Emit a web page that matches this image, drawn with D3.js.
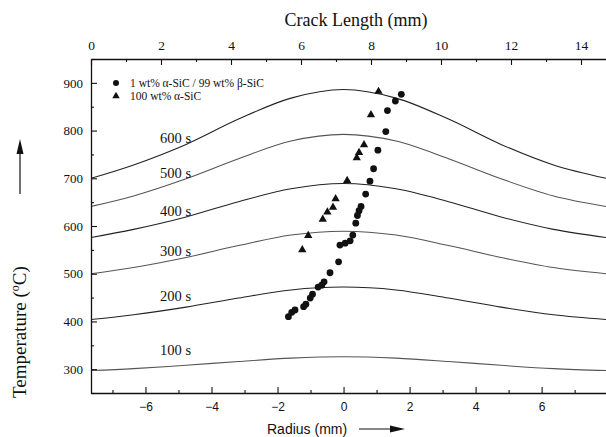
<!DOCTYPE html>
<html>
<head>
<meta charset="utf-8">
<script src="https://cdn.jsdelivr.net/npm/d3@7"></script>
<style>
  body { margin: 0; background: #fff; }
  svg { display: block; }
</style>
</head>
<body>
<script>
// radius positions (mm) where the isochrone curves were read
const radius = [-7.65, -6.36, -4.77, -3.18, -1.59, 0, 1.59, 3.18, 4.77, 6.36, 7.95];

// temperature profiles (°C) after each heating time
const curve100 = [297, 301, 308, 316, 323, 326, 323, 316, 308, 301, 297];
const curve200 = [404, 414, 430, 449, 466, 472, 466, 449, 430, 414, 404];
const curve300 = [500, 513, 534, 559, 581, 589, 581, 559, 534, 513, 500];
const curve400 = [576, 593, 619, 651, 678, 689, 678, 651, 619, 593, 576];
const curve500 = [641, 663, 699, 741, 778, 792, 778, 741, 699, 663, 641];
const curve600 = [700, 728, 771, 824, 868, 886, 868, 824, 771, 728, 700];
const curveLabels = ["100 s", "200 s", "300 s", "400 s", "500 s", "600 s"];

// 1 wt% alpha-SiC / 99 wt% beta-SiC (circles)
const circR = [1.75, 1.57, 1.33, 1.28, 1.04, 0.91, 0.80, 0.67, 0.53, 0.47, 0.42, 0.37, 0.28, 0.20,
               0.05, -0.11, -0.15, -0.41, -0.59, -0.66, -0.77, -0.94, -1.01, -1.14, -1.21, -1.47, -1.57, -1.67];
const circT = [876, 862, 842, 798, 759, 720, 694, 667, 641, 632, 622, 606, 581, 569,
               564, 560, 525, 502, 483, 476, 472, 457, 449, 436, 431, 424, 419, 410];

// 100 wt% alpha-SiC (triangles)
const triR = [1.06, 0.83, 0.62, 0.47, 0.40, 0.11, -0.24, -0.32, -0.49, -0.63, -1.07, -1.25];
const triT = [882, 833, 770, 754, 743, 695, 657, 639, 629, 614, 580, 550];

const legendLabels = ["1 wt% \u03b1-SiC / 99 wt% \u03b2-SiC", "100 wt% \u03b1-SiC"];

const crackTicks = [0, 2, 4, 6, 8, 10, 12, 14];
const radiusTicks = [-6, -4, -2, 0, 2, 4, 6];
const tempTicks = [300, 400, 500, 600, 700, 800, 900];

const W = 606, H = 437;
const plotLeft = 91, plotRight = 606, plotTop = 59, plotBottom = 393;
// nudge of each curve label off its curve (px)
const labelNudge = [-8, -4, 1, 1, 1, 1];

const svg = d3.select("body").append("svg")
    .attr("width", W)
    .attr("height", H);

svg.append("rect").attr("width", W).attr("height", H).attr("fill", "#fff");

// scales
const x = d3.scaleLinear().domain([-7.65, 7.95]).range([plotLeft, plotRight]);
const xCrack = d3.scaleLinear().domain([0, 15]).range([plotLeft, plotLeft + 525]);
const y = d3.scaleLinear().domain([250, 950]).range([plotBottom, plotTop]);

const serif = "'Liberation Serif', 'Times New Roman', serif";
const sans = "'Liberation Sans', Arial, sans-serif";

svg.append("clipPath").attr("id", "plot")
    .append("rect")
    .attr("x", plotLeft).attr("y", plotTop)
    .attr("width", plotRight - plotLeft).attr("height", plotBottom - plotTop);

// curves
const line = d3.line()
    .x((d, i) => x(radius[i]))
    .y(d => y(d))
    .curve(d3.curveCatmullRom.alpha(0.5));

const curves = [curve100, curve200, curve300, curve400, curve500, curve600];
svg.append("g")
    .attr("clip-path", "url(#plot)")
    .selectAll("path")
    .data(curves)
    .enter()
    .append("path")
    .attr("d", d => line(d))
    .attr("fill", "none")
    .attr("stroke", (d, i) => i % 2 ? "#222" : "#555")
    .attr("stroke-width", 1.1);

svg.append("g")
    .selectAll("text")
    .data(curves)
    .enter()
    .append("text")
    .attr("x", 160)
    .attr("y", (d, i) => y(d[2]) - 2 + labelNudge[i])
    .attr("font-family", serif)
    .attr("font-size", 14.5)
    .attr("fill", "#111")
    .text((d, i) => curveLabels[i]);

// axes: inward ticks
function styleAxis(g) {
    g.selectAll("path").attr("stroke", "#111").attr("stroke-width", 1.3);
    g.selectAll("line").attr("stroke", "#111").attr("stroke-width", 1.1);
    g.selectAll("text").attr("fill", "#111");
}

// bottom (radius)
svg.append("g")
    .attr("transform", `translate(0,${plotBottom})`)
    .call(d3.axisBottom(x).tickValues([-7, -5, -3, -1, 1, 3, 5, 7]).tickSize(-3).tickFormat("").tickSizeOuter(0))
    .call(styleAxis);
svg.append("g")
    .attr("transform", `translate(0,${plotBottom})`)
    .call(d3.axisBottom(x).tickValues(radiusTicks).tickSize(-6).tickPadding(9).tickSizeOuter(0))
    .call(styleAxis)
    .call(g => g.selectAll("text").attr("font-family", sans).attr("font-size", 12))
    .call(g => g.select(".domain").remove());

// top (crack length)
svg.append("g")
    .attr("transform", `translate(0,${plotTop})`)
    .call(d3.axisTop(xCrack).tickValues([1, 3, 5, 7, 9, 11, 13, 15]).tickSize(-3).tickFormat("").tickSizeOuter(0))
    .call(styleAxis);
svg.append("g")
    .attr("transform", `translate(0,${plotTop})`)
    .call(d3.axisTop(xCrack).tickValues(crackTicks).tickSize(-6).tickPadding(9).tickSizeOuter(0))
    .call(styleAxis)
    .call(g => g.selectAll("text").attr("font-family", serif).attr("font-size", 13.5))
    .call(g => g.select(".domain").remove());

// left (temperature)
svg.append("g")
    .attr("transform", `translate(${plotLeft},0)`)
    .call(d3.axisLeft(y).tickValues([250, 350, 450, 550, 650, 750, 850, 950]).tickSize(-3).tickFormat("").tickSizeOuter(0))
    .call(styleAxis);
svg.append("g")
    .attr("transform", `translate(${plotLeft},0)`)
    .call(d3.axisLeft(y).tickValues(tempTicks).tickSize(-6).tickPadding(8).tickSizeOuter(0))
    .call(styleAxis)
    .call(g => g.selectAll("text").attr("font-family", serif).attr("font-size", 13))
    .call(g => g.select(".domain").remove());

// data points
svg.append("g")
    .selectAll("circle")
    .data(circR)
    .enter()
    .append("circle")
    .attr("cx", d => x(d))
    .attr("cy", (d, i) => y(circT[i]))
    .attr("r", 3.4)
    .attr("fill", "#111");

const tri = d3.symbol().type(d3.symbolTriangle).size(30);
svg.append("g")
    .selectAll("path")
    .data(triR)
    .enter()
    .append("path")
    .attr("d", tri)
    .attr("transform", (d, i) => `translate(${x(d)},${y(triT[i])})`)
    .attr("fill", "#111");

// legend
const legend = svg.append("g").attr("transform", "translate(116,83)");
legend.append("circle").attr("cx", 0).attr("cy", 0).attr("r", 3).attr("fill", "#111");
legend.append("path").attr("d", d3.symbol().type(d3.symbolTriangle).size(24)())
    .attr("transform", "translate(0,13)").attr("fill", "#111");
legend.selectAll("text")
    .data(legendLabels)
    .enter()
    .append("text")
    .attr("x", 14)
    .attr("y", (d, i) => i * 13 + 4)
    .attr("font-family", serif)
    .attr("font-size", 11.5)
    .attr("fill", "#111")
    .text(d => d);

// titles
svg.append("text")
    .attr("x", 356).attr("y", 26)
    .attr("text-anchor", "middle")
    .attr("font-family", serif)
    .attr("font-size", 18)
    .attr("fill", "#111")
    .text("Crack Length (mm)");

svg.append("text")
    .attr("x", 267).attr("y", 434)
    .attr("font-family", sans)
    .attr("font-size", 14)
    .attr("fill", "#111")
    .text("Radius (mm)");

// arrow after radius title
svg.append("line")
    .attr("x1", 359).attr("x2", 393).attr("y1", 429).attr("y2", 429)
    .attr("stroke", "#111").attr("stroke-width", 1.2);
svg.append("path")
    .attr("d", "M390,425.5 L405,429 L390,432.5 Z")
    .attr("fill", "#111");

// temperature title, rotated
const yt = svg.append("text")
    .attr("transform", "translate(26,398) rotate(-90)")
    .attr("font-family", serif)
    .attr("font-size", 19)
    .attr("fill", "#111");
yt.append("tspan").text("Temperature (");
yt.append("tspan").attr("font-size", 12).attr("dy", -7).text("o");
yt.append("tspan").attr("dy", 7).text("C)");

svg.append("line")
    .attr("x1", 20).attr("x2", 20).attr("y1", 194).attr("y2", 152)
    .attr("stroke", "#111").attr("stroke-width", 1.2);
svg.append("path")
    .attr("d", "M16.5,154 L20,139 L23.5,154 Z")
    .attr("fill", "#111");
</script>
</body>
</html>
